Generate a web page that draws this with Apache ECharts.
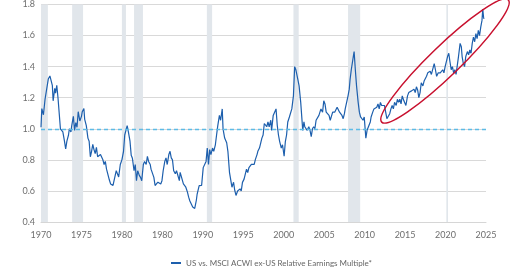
<!DOCTYPE html>
<html>
<head>
<meta charset="utf-8">
<script src="https://cdn.jsdelivr.net/npm/echarts@6/dist/echarts.min.js"></script>
<style>
html,body{margin:0;padding:0;background:#fff;}
#chart{width:520px;height:272px;}
</style>
</head>
<body>
<div id="chart"></div>
<script>
var seriesName = 'US vs. MSCI ACWI ex-US Relative Earnings Multiple*';
var xTickLabels = ['1970','1975','1980','1980','1990','1995','2000','2005','2010','2015','2020','2025'];
var recessionStart = [1969.95, 1973.85, 1980.0, 1981.5, 1990.5, 2001.2, 2007.95, 2020.1];
var recessionEnd   = [1970.85, 1975.2, 1980.5, 1982.6, 1991.15, 2001.85, 2009.45, 2020.3];
var years = [
1970.0,1970.1,1970.3,1970.5,1970.7,1970.9,1971.1,1971.2,1971.4,1971.5,1971.7,1971.8,1971.95,1972.1,1972.3,1972.4,1972.55,1972.7,1972.9,1973.05,
1973.2,1973.4,1973.5,1973.7,1973.8,1974.0,1974.15,1974.3,1974.45,1974.6,1974.8,1975.0,1975.1,1975.3,1975.4,1975.6,1975.8,1975.95,1976.1,1976.25,
1976.4,1976.55,1976.7,1976.85,1977.0,1977.2,1977.35,1977.5,1977.65,1977.8,1977.95,1978.1,1978.3,1978.45,1978.6,1978.75,1978.9,1979.1,1979.3,1979.45,
1979.6,1979.8,1980.0,1980.2,1980.35,1980.5,1980.65,1980.8,1981.0,1981.15,1981.3,1981.5,1981.65,1981.8,1981.95,1982.15,1982.3,1982.45,1982.65,1982.8,
1983.0,1983.15,1983.3,1983.5,1983.6,1983.8,1983.95,1984.1,1984.3,1984.45,1984.6,1984.8,1984.95,1985.1,1985.3,1985.45,1985.6,1985.8,1985.95,1986.1,
1986.25,1986.4,1986.6,1986.75,1986.9,1987.1,1987.2,1987.4,1987.6,1987.7,1987.9,1988.1,1988.25,1988.4,1988.55,1988.75,1989.0,1989.2,1989.3,1989.55,
1989.7,1989.85,1990.05,1990.2,1990.4,1990.55,1990.7,1990.85,1991.0,1991.2,1991.35,1991.55,1991.7,1991.85,1992.05,1992.2,1992.4,1992.5,1992.7,1992.95,
1993.1,1993.3,1993.45,1993.6,1993.8,1993.95,1994.1,1994.3,1994.45,1994.6,1994.75,1994.9,1995.1,1995.25,1995.4,1995.55,1995.7,1995.85,1996.0,1996.2,
1996.35,1996.5,1996.7,1996.8,1997.0,1997.1,1997.3,1997.45,1997.6,1997.75,1997.9,1998.05,1998.2,1998.4,1998.5,1998.7,1998.85,1999.05,1999.2,1999.35,
1999.5,1999.7,1999.85,2000.05,2000.2,2000.35,2000.5,2000.7,2000.85,2001.0,2001.2,2001.35,2001.5,2001.6,2001.75,2001.9,2002.1,2002.35,2002.5,2002.6,
2002.75,2002.9,2003.1,2003.25,2003.4,2003.55,2003.7,2003.85,2004.0,2004.2,2004.35,2004.5,2004.6,2004.8,2004.95,2005.1,2005.25,2005.4,2005.6,2005.75,
2005.9,2006.05,2006.3,2006.6,2006.7,2006.9,2007.05,2007.2,2007.35,2007.5,2007.6,2007.95,2008.1,2008.2,2008.35,2008.6,2008.7,2008.85,2009.0,2009.2,
2009.35,2009.5,2009.65,2009.8,2009.95,2010.15,2010.3,2010.5,2010.7,2010.8,2011.0,2011.15,2011.3,2011.5,2011.65,2011.8,2011.95,2012.1,2012.3,2012.45,
2012.6,2012.75,2012.9,2013.1,2013.25,2013.4,2013.55,2013.7,2013.9,2014.05,2014.2,2014.35,2014.5,2014.65,2014.85,2015.0,2015.1,2015.3,2015.45,2015.6,
2015.8,2015.95,2016.1,2016.25,2016.4,2016.55,2016.7,2016.85,2017.0,2017.2,2017.35,2017.5,2017.65,2017.8,2017.95,2018.1,2018.25,2018.5,2018.6,2018.75,
2018.9,2019.1,2019.2,2019.35,2019.5,2019.65,2019.8,2019.95,2020.25,2020.4,2020.55,2020.7,2020.85,2021.0,2021.15,2021.3,2021.6,2021.8,2021.95,2022.05,
2022.2,2022.35,2022.5,2022.7,2022.85,2023.0,2023.15,2023.3,2023.45,2023.6,2023.75,2023.9,2024.05,2024.2,2024.35,2024.5,2024.6,2024.7,2024.75
];
var values = [
1.01,1.13,1.09,1.19,1.20,1.32,1.34,1.335,1.28,1.18,1.26,1.23,1.28,1.20,1.19,1.0,1.0,0.98,0.92,0.87,
0.92,0.96,1.0,0.98,1.02,1.08,0.99,1.04,1.01,1.11,1.05,1.08,1.11,1.13,1.06,1.02,0.94,0.92,0.82,0.855,
0.90,0.866,0.84,0.88,0.82,0.81,0.835,0.845,0.80,0.77,0.79,0.74,0.73,0.67,0.645,0.656,0.635,0.645,0.73,0.74,
0.69,0.77,0.80,0.855,0.96,0.95,1.02,0.98,0.92,0.83,0.81,0.73,0.77,0.666,0.73,0.70,0.687,0.666,0.77,0.79,
0.77,0.823,0.79,0.77,0.74,0.75,0.687,0.635,0.624,0.656,0.656,0.645,0.666,0.73,0.79,0.813,0.77,0.834,0.855,0.813,
0.80,0.73,0.71,0.73,0.72,0.666,0.72,0.71,0.645,0.656,0.624,0.592,0.56,0.535,0.54,0.497,0.487,0.54,0.58,0.634,
0.645,0.635,0.75,0.76,0.79,0.876,0.77,0.866,0.834,0.876,0.855,0.897,0.96,1.02,1.086,1.055,1.128,1.0,0.94,0.91,
0.855,0.718,0.71,0.624,0.656,0.603,0.571,0.60,0.592,0.613,0.60,0.655,0.676,0.687,0.74,0.718,0.75,0.74,0.771,0.76,
0.771,0.803,0.834,0.855,0.876,0.897,0.94,0.96,1.034,1.023,1.013,1.044,1.013,1.055,0.99,1.086,1.097,1.128,1.023,0.96,
0.918,0.876,0.897,0.823,0.918,0.96,1.044,1.076,1.065,1.128,1.212,1.40,1.38,1.39,1.317,1.276,1.17,0.99,1.044,1.013,
1.023,0.99,1.013,0.99,0.95,1.0,1.013,1.0,1.055,1.065,1.086,1.097,1.128,1.107,1.18,1.16,1.107,1.118,1.086,1.055,
1.065,1.107,1.107,1.139,1.128,1.107,1.097,1.086,1.065,1.097,1.128,1.212,1.255,1.317,1.38,1.465,1.497,1.38,1.276,1.17,
1.107,1.076,1.086,1.055,1.076,0.94,0.99,1.0,1.044,1.076,1.107,1.128,1.118,1.139,1.16,1.128,1.17,1.15,1.16,1.15,
1.107,1.065,1.055,1.097,1.128,1.15,1.128,1.17,1.15,1.19,1.17,1.19,1.16,1.212,1.18,1.17,1.15,1.212,1.233,1.223,
1.244,1.233,1.255,1.233,1.27,1.25,1.20,1.233,1.296,1.276,1.307,1.296,1.338,1.36,1.35,1.37,1.35,1.40,1.42,1.38,
1.338,1.36,1.35,1.36,1.35,1.38,1.36,1.40,1.465,1.486,1.43,1.38,1.40,1.36,1.38,1.35,1.465,1.55,1.528,1.465,
1.42,1.40,1.465,1.497,1.476,1.507,1.486,1.55,1.59,1.56,1.612,1.58,1.633,1.60,1.654,1.696,1.77,1.717,1.707
];

var lineData = years.map(function(y, i){ return [y, values[i]]; });
var areas = recessionStart.map(function(s, i){ return [{xAxis: s}, {xAxis: recessionEnd[i]}]; });

var chart = echarts.init(document.getElementById('chart'), null, {renderer:'canvas'});
var font = 'Lato, "Open Sans", sans-serif';
chart.setOption({
  animation: false,
  backgroundColor: '#ffffff',
  textStyle: {fontFamily: font},
  grid: {left: 41, right: 34, top: 0, bottom: 50, containLabel: false},
  legend: {
    data: [seriesName], left: 166, top: 254, icon: 'rect',
    itemWidth: 10, itemHeight: 2, itemGap: 10,
    textStyle: {fontSize: 8, color: '#666', fontFamily: font}
  },
  xAxis: {
    type: 'value', min: 1970, max: 2025, interval: 5,
    axisLine: {show: true, lineStyle: {color: '#d6d6d6'}},
    axisTick: {show: false},
    splitLine: {show: false},
    axisLabel: {
      color: '#6e6e6e', fontSize: 9, margin: 9, fontFamily: font,
      formatter: function(v){ return xTickLabels[Math.round((v - 1970) / 5)] || ''; }
    }
  },
  yAxis: {
    type: 'value', min: 0.4, max: 1.8, interval: 0.2,
    axisLine: {show: false}, axisTick: {show: false},
    splitLine: {lineStyle: {color: '#d9d9d9', width: 1}},
    axisLabel: {color: '#6e6e6e', fontSize: 9, margin: 6, fontFamily: font,
      formatter: function(v){ return v.toFixed(1); }}
  },
  series: [
    {
      type: 'line', name: 'bands', data: [], silent: true, z: 1,
      markArea: {silent: true, itemStyle: {color: '#e1e6eb'}, data: areas},
      markLine: {silent: true, symbol: 'none', label: {show: false},
        lineStyle: {color: '#5dbbe6', type: [4, 3], width: 1.3},
        data: [{yAxis: 1.0}]}
    },
    {
      type: 'line', name: seriesName, data: lineData, showSymbol: false, z: 3,
      lineStyle: {color: '#1d5fad', width: 1.2}, itemStyle: {color: '#1d5fad'}
    }
  ],
  graphic: [{
    type: 'ellipse', x: 445, y: 61, rotation: 44 * Math.PI / 180,
    shape: {cx: 0, cy: 0, rx: 88, ry: 15},
    style: {fill: 'none', stroke: '#c8102e', lineWidth: 1.5}, z: 100
  }]
});
</script>
</body>
</html>
